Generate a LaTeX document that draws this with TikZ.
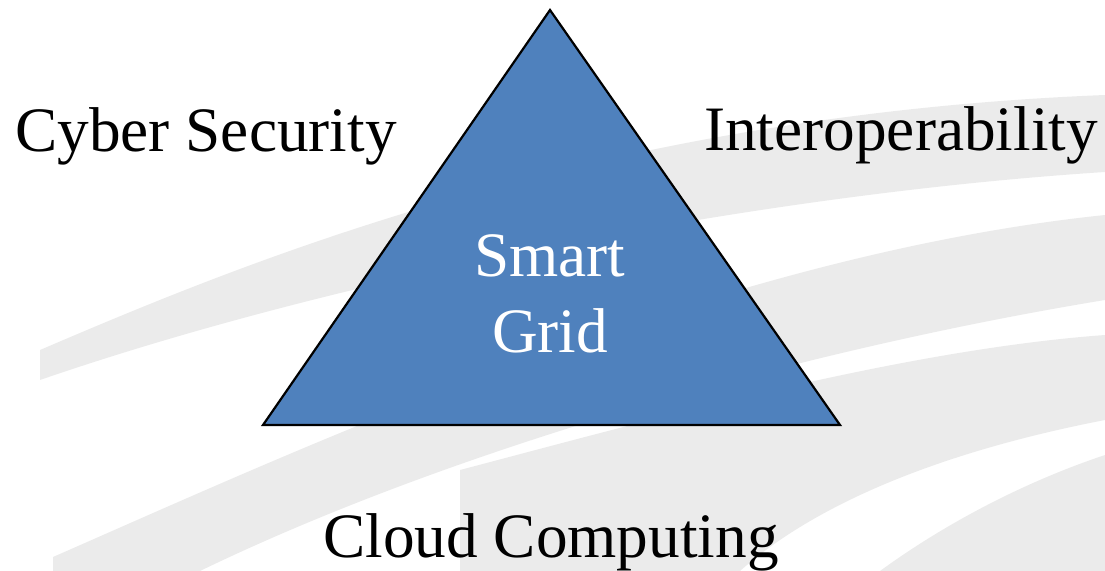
\documentclass[tikz,border=0pt]{standalone}
\usepackage{fontspec}
\setmainfont{Liberation Serif}
\usepackage{tikz}

\definecolor{gridblue}{HTML}{4F81BD}
\definecolor{swoosh}{HTML}{EBEBEB}

\begin{document}
\begin{tikzpicture}[x=1bp, y=-1bp,
  every node/.style={inner sep=0pt, outer sep=0pt},
  topic/.style={font=\fontsize{63.5}{77}\selectfont, text=black},
  band/.style={fill=swoosh, draw=none}]
  \useasboundingbox (0,0) rectangle (1105,571);

  % Background swooshes
  \path[band] (40,350) .. controls (250,260) and (600,115) .. (1105,95)
    -- (1105,172) .. controls (750,195) and (330,280) .. (40,380) -- cycle;
  \path[band] (53,557) .. controls (320,440) and (720,255) .. (1105,215)
    -- (1105,300) .. controls (800,350) and (450,450) .. (200,571) -- (53,571) -- cycle;
  \path[band] (460,571) -- (460,470) .. controls (650,420) and (900,350) .. (1105,335)
    -- (1105,420) .. controls (950,450) and (820,500) .. (740,571) -- cycle;
  \path[band] (880,571) .. controls (950,520) and (1030,480) .. (1105,455)
    -- (1105,571) -- cycle;

  % Triangle
  \coordinate (apex) at (550,10);
  \coordinate (baseL) at (263,425);
  \coordinate (baseR) at (840,425);
  \draw[fill=gridblue, line width=2.2bp, line join=miter] (apex) -- (baseR) -- (baseL) -- cycle;

  % Labels
  \node[topic, text=white, align=center] (grid) at (550,294) {Smart\\Grid};
  \node[topic, anchor=base] (cyber) at (206,152) {Cyber Security};
  \node[topic, anchor=base] (interop) at (901,151) {Interoperability};
  \node[topic, anchor=base] (cloud) at (551,557) {Cloud Computing};
\end{tikzpicture}
\end{document}
